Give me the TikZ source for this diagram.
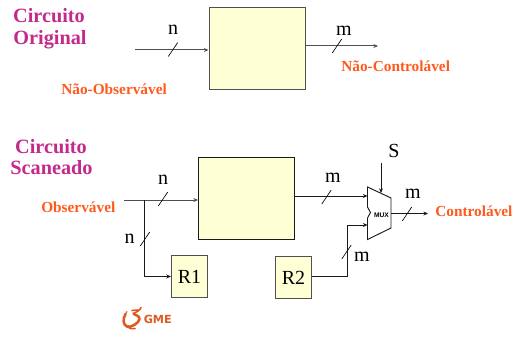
\documentclass[tikz,border=0pt]{standalone}
\usepackage{fontspec}
\setmainfont{Liberation Serif}
\newfontfamily\logofont{DejaVu Sans}
\newfontfamily\muxfont{Liberation Sans}
\usetikzlibrary{arrows.meta}
\definecolor{titlecol}{HTML}{C42A8C}
\definecolor{notecol}{HTML}{FF5A1E}
\definecolor{boxfill}{HTML}{FFFFD6}
\definecolor{logocol}{HTML}{DD5A20}
\definecolor{linecol}{HTML}{1A1A1A}
\definecolor{softline}{HTML}{505050}
\tikzset{
  title/.style={anchor=base,inner sep=0pt,font=\fontsize{15.2}{17}\selectfont\bfseries,text=titlecol},
  note/.style={anchor=base west,inner sep=0pt,font=\fontsize{11.5}{13}\selectfont\bfseries,text=notecol},
  sig/.style={anchor=base,inner sep=0pt,font=\fontsize{15}{17}\selectfont,text=black},
  block/.style={draw=linecol,fill=boxfill,line width=0.75pt,inner sep=0pt,minimum width=72pt,minimum height=62pt},
  softblock/.style={block,draw=softline},
  reg/.style={draw=softline,fill=boxfill,line width=0.85pt,inner sep=0pt,minimum width=27pt,minimum height=31.5pt,font=\fontsize{15}{17}\selectfont},
  wire/.style={draw=linecol,line width=0.7pt},
  softwire/.style={draw=softline,line width=0.75pt},
  arrow/.style={wire,-{Stealth[length=3.5pt,width=3pt]}},
  softarrow/.style={softwire,-{Stealth[length=3.5pt,width=3pt]}},
  busmark/.style={draw=black,line width=0.5pt},
  logostroke/.style={draw=logocol,line cap=round,line join=round},
}
\newcommand{\slashat}[2]{\draw[busmark] (#1,#2) ++(-4.7,7) -- ++(9.4,-14);}
\begin{document}
\begin{tikzpicture}[x=0.75pt,y=-0.75pt]
\useasboundingbox[fill=white] (0,0) rectangle (523,338);
% titles
\node[title] (t1) at (49,23) {Circuito};
\node[title] (t2) at (50,45) {Original};
\node[title] (t3) at (51,153) {Circuito};
\node[title] (t4) at (51.5,175) {Scaneado};
% notes
\node[note] (nobs) at (61,95) {Não-Observável};
\node[note] (ncon) at (341,72) {Não-Controlável};
\node[note] (obs) at (41,212) {Observável};
\node[note] (con) at (435,216) {Controlável};
% blocks
\node[softblock] (c1) at (257,48.5) {};
\node[block] (c2) at (246.5,198.5) {};
\node[reg] (r1) at (189.5,276.5) {R1};
\node[reg] (r2) at (293.5,277.5) {R2};
% mux
\coordinate (mtl) at (367.5,187);
\coordinate (mtr) at (391,198);
\coordinate (mbr) at (391,228);
\coordinate (mbl) at (367.5,239.5);
\draw[wire,fill=white] (mtl) -- (mtr) -- (mbr) -- (mbl) -- (367.5,218) -- (370.5,212.5) -- (367.5,207) -- cycle;
\node[inner sep=0pt,font=\fontsize{5}{6}\selectfont\muxfont\bfseries] (mux) at (381.5,215) {MUX};
% upper circuit
\coordinate (i1) at (135,50);
\coordinate (o1) at (378,46);
\draw[softarrow] (i1) -- (i1 -| c1.west);
\draw[softarrow] (o1 -| c1.east) -- (o1);
\slashat{173}{49.5}
\slashat{337}{46}
\node[sig] (n1) at (173,35) {n};
\node[sig] (m1) at (344,36) {m};
% lower circuit
\coordinate (i2) at (124,200);
\coordinate (j) at (144,200);
\coordinate (o2) at (428,213.5);
\coordinate (s) at (381,163);
\coordinate (st) at (381,193);
\coordinate (mi1) at (367.5,196);
\coordinate (mi2) at (367.5,225);
\coordinate (k) at (347,225);
\draw[softarrow] (i2) -- (i2 -| c2.west);
\draw[arrow] (j) |- (r1.west);
\draw[arrow] (c2.east |- mi1) -- (mi1);
\draw[arrow] (r2.east |- 0,276) -- (k |- 0,276) -- (k) -- (mi2);
\draw[arrow] (s) -- (st);
\draw[arrow] (mtr |- o2) -- (o2);
\slashat{163}{199}
\slashat{145}{239}
\slashat{326.5}{197}
\slashat{346.5}{252}
\slashat{407}{214}
\node[sig] (n2) at (163,185) {n};
\node[sig] (n3) at (129.5,243) {n};
\node[sig] (m2) at (333,182) {m};
\node[sig] (m3) at (413,198) {m};
\node[sig] (m4) at (362,261) {m};
\node[sig] (ss) at (394,157) {S};
% logo
\draw[logostroke,line width=1.9pt]
  (125.5,314) .. controls (122.5,319) and (123,325) .. (127,326.5)
  .. controls (131,328) and (139,323) .. (139.5,319)
  .. controls (140,315.5) and (135,315.5) .. (133.5,313.5);
\draw[logostroke,line width=1.2pt] (133.5,313.5) .. controls (136,312) and (140,311) .. (141,307.5);
\draw[logostroke,line width=1.2pt] (132,310.5) -- (138,310);
\draw[logostroke,line width=1.2pt] (127,326.5) .. controls (129,328.5) and (131,329) .. (135,328.5);
\draw[logostroke,line width=0.8pt] (125.5,314) -- (127,311.5);
\node[inner sep=0pt,anchor=base west,font=\fontsize{8.4}{10}\selectfont\logofont\bfseries,text=logocol] (gme) at (143.5,323.5) {GME};
\end{tikzpicture}
\end{document}
